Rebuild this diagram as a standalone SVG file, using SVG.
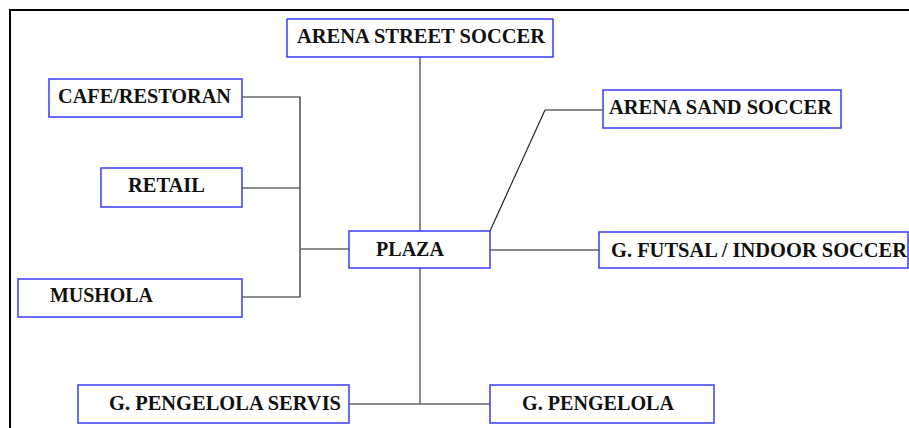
<svg xmlns="http://www.w3.org/2000/svg" width="909" height="428" viewBox="0 0 909 428">
<style>
.box{fill:#fff;stroke:#3b3bf5;stroke-width:1.5}
.lbl{font-family:"Liberation Serif","Times New Roman",serif;font-weight:bold;font-size:20px;fill:#111}
.ln{fill:none;stroke:#222;stroke-width:1.2}
.lg{fill:none;stroke:#666;stroke-width:1.5}
</style>
<rect x="0" y="0" width="909" height="428" fill="#fff"/>
<path d="M10,428 V10 H909" fill="none" stroke="#000" stroke-width="2"/>
<g id="connectors">
<path class="lg" d="M420,57 V231"/>
<path class="lg" d="M420,268 V404"/>
<path class="lg" d="M349,404 H490"/>
<path class="ln" d="M242,97 H300 V297 H242"/>
<path class="ln" d="M242,188 H300"/>
<path class="lg" d="M300,249 H349"/>
<path class="ln" d="M490,231 L545,110"/>
<path class="lg" d="M545,110 H603"/>
<path class="lg" d="M490,250 H599"/>
</g>
<g id="arena-street-soccer"><rect class="box" x="287" y="19" width="266" height="38"/><text class="lbl" x="297" y="43" textLength="248" lengthAdjust="spacingAndGlyphs">ARENA STREET SOCCER</text></g>
<g id="cafe-restoran"><rect class="box" x="49" y="79" width="193" height="38"/><text class="lbl" x="58" y="103" textLength="173" lengthAdjust="spacingAndGlyphs">CAFE/RESTORAN</text></g>
<g id="retail"><rect class="box" x="101" y="168" width="141" height="39"/><text class="lbl" x="128" y="192" textLength="77" lengthAdjust="spacingAndGlyphs">RETAIL</text></g>
<g id="mushola"><rect class="box" x="18" y="279" width="224" height="38"/><text class="lbl" x="50" y="302" textLength="103" lengthAdjust="spacingAndGlyphs">MUSHOLA</text></g>
<g id="plaza"><rect class="box" x="349" y="231" width="141" height="37"/><text class="lbl" x="376" y="256" textLength="68" lengthAdjust="spacingAndGlyphs">PLAZA</text></g>
<g id="arena-sand-soccer"><rect class="box" x="603" y="90" width="238" height="38"/><text class="lbl" x="609" y="114" textLength="223" lengthAdjust="spacingAndGlyphs">ARENA SAND SOCCER</text></g>
<g id="g-futsal"><rect class="box" x="599" y="232" width="309" height="36"/><text class="lbl" x="611" y="257" textLength="296" lengthAdjust="spacingAndGlyphs">G. FUTSAL / INDOOR SOCCER</text></g>
<g id="g-pengelola-servis"><rect class="box" x="78" y="385" width="271" height="38"/><text class="lbl" x="109" y="410" textLength="232" lengthAdjust="spacingAndGlyphs">G. PENGELOLA SERVIS</text></g>
<g id="g-pengelola"><rect class="box" x="490" y="385" width="224" height="38"/><text class="lbl" x="522" y="410" textLength="152" lengthAdjust="spacingAndGlyphs">G. PENGELOLA</text></g>
</svg>
